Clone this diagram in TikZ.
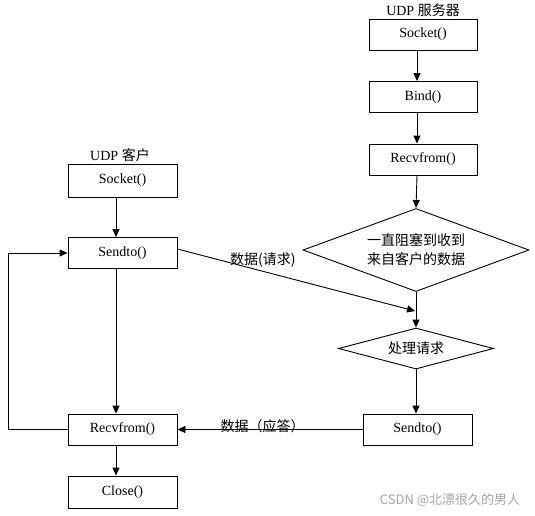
\documentclass[tikz,border=0pt]{standalone}
\usepackage{fontspec}
\setmainfont{Liberation Serif}
\newfontfamily\cjk{Noto Sans CJK SC}
\usetikzlibrary{shapes.geometric,arrows.meta}
\colorlet{wmark}{black!35}
\tikzset{
    box/.style={draw,line width=0.9pt,minimum width=109pt,minimum height=31pt,inner sep=0pt,font=\fontsize{14}{17}\selectfont},
    dia/.style={draw,diamond,line width=0.9pt,inner sep=0pt,align=center,font=\cjk\fontsize{14}{19}\selectfont},
    arr/.style={line width=0.9pt,-{Triangle[length=8pt,width=7pt]}},
    lbl/.style={inner sep=0pt,font=\fontsize{14}{17}\selectfont},
    cn/.style={inner sep=0pt,font=\cjk\fontsize{14}{17}\selectfont}
}
\begin{document}
\begin{tikzpicture}[x=1pt,y=-1pt]
        \useasboundingbox [fill=white] (0,0) rectangle (535,515);
        \coordinate (ccol) at (116,0);
        \coordinate (scol) at (417,0);
        \coordinate (loopx) at (8,0);
        \coordinate (reqend) at (415,311);
        \node [lbl] (stitle) at (423,10) {UDP {\cjk 服务器}};
        \node [box,minimum width=108pt] (ssock) at (423,34.5) {Socket()};
        \node [box,minimum width=108pt] (sbind) at (423,97) {Bind()};
        \node [box,minimum width=108pt] (srecv) at (423,159.5) {Recvfrom()};
        \node [dia,aspect=2.72,minimum width=226pt,minimum height=83pt] (swait) at (416,250) {一直阻塞到收到\\来自客户的数据};
        \node [dia,aspect=3.8,minimum width=155pt,minimum height=41pt] (sproc) at (416,348.5) {处理请求};
        \node [box] (ssend) at (417.5,429.5) {Sendto()};
        \node [lbl] (ctitle) at (120,155) {UDP {\cjk 客户}};
        \node [box,minimum height=33pt] (csock) at (122.5,180.5) {Socket()};
        \node [box] (csend) at (122.5,253) {Sendto()};
        \node [box] (crecv) at (122.5,429.5) {Recvfrom()};
        \node [box,minimum height=32pt] (cclose) at (122.5,492) {Close()};
        \draw [arr] (csock.south -| ccol) -- (csend.north -| ccol);
        \draw [arr] (csend.south -| ccol) -- (crecv.north -| ccol);
        \draw [arr] (crecv.south -| ccol) -- (cclose.north -| ccol);
        \draw [arr] (crecv.west) -- (crecv.west -| loopx) |- (csend.west);
        \draw [arr] (ssock.south -| scol) -- (sbind.north -| scol);
        \draw [arr] (sbind.south -| scol) -- (srecv.north -| scol);
        \draw [arr] (srecv.south -| scol) -- (swait.north);
        \draw [arr] (swait.south) -- (sproc.north);
        \draw [arr] (sproc.south) -- (ssend.north -| sproc.south);
        \draw [arr] ([yshift=4pt]csend.east) -- node [cn,pos=0.36,yshift=11pt] (reqlbl) {数据(请求)} (reqend);
        \draw [arr] (ssend.west) -- node [cn,pos=0.54,yshift=3pt] (replbl) {数据（应答）} (crecv.east);
        \node [inner sep=0pt,text=wmark,font=\cjk\fontsize{13}{15}\selectfont] (mark) at (450,500) {CSDN @北漂很久的男人};
    \end{tikzpicture}
\end{document}
